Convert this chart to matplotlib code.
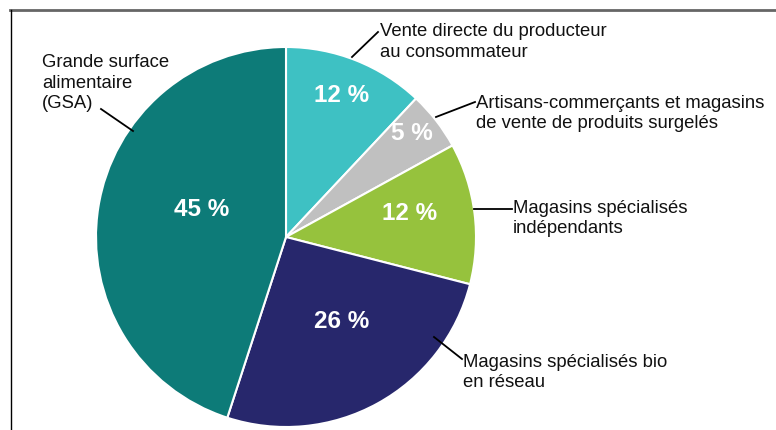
import matplotlib
matplotlib.use("Agg")
import matplotlib.pyplot as plt
from matplotlib.lines import Line2D

plt.rcParams['font.family'] = ['Liberation Sans', 'DejaVu Sans']

categories = [
    "Vente directe du producteur\nau consommateur",
    "Artisans-commerçants et magasins\nde vente de produits surgelés",
    "Magasins spécialisés\nindépendants",
    "Magasins spécialisés bio\nen réseau",
    "Grande surface\nalimentaire\n(GSA)",
]
values = [12, 5, 12, 26, 45]
pct_labels = ["12 %", "5 %", "12 %", "26 %", "45 %"]
colors = ["#3EC1C3", "#C0C0C0", "#96C23D", "#27276C", "#0D7B78"]

W, H = 776, 431
fig = plt.figure(figsize=(W / 100, H / 100), dpi=100)
ax = fig.add_axes([0, 0, 1, 1])
ax.set_xlim(0, W)
ax.set_ylim(0, H)
ax.set_aspect('equal')
ax.axis('off')

def Y(y):
    return H - y

cx, cy, R = 286, Y(238), 190
wedges, _ = ax.pie(values, colors=colors, startangle=90, counterclock=False,
                   center=(cx, cy), radius=R,
                   wedgeprops=dict(edgecolor='white', linewidth=1.5))
ax.set_xlim(0, W)
ax.set_ylim(0, H)

# percent labels inside
pct_pos = [(342, 95), (412, 133), (410, 213), (342, 322), (202, 209)]
for (x, y), t in zip(pct_pos, pct_labels):
    ax.text(x, Y(y), t, color='white', fontsize=17.5, fontweight='bold',
            ha='center', va='center')

# outer labels with leader lines
lab_pos = [(380, 42), (476, 113.5), (513, 218.5), (463, 372.5), (42, 83)]
lines = [((352, 58), (378, 33)),
         ((436, 118), (475, 103)),
         ((474, 210), (512, 210)),
         ((434, 338), (462, 360)),
         ((101, 110), (133, 132))]
for (x, y), t in zip(lab_pos, categories):
    ax.text(x, Y(y), t, color='#111111', fontsize=13.3, ha='left',
            va='center', linespacing=1.3)
for (p1, p2) in lines:
    ax.add_line(Line2D([p1[0], p2[0]], [Y(p1[1]), Y(p2[1])],
                       color='black', lw=1.3))

# frame
ax.add_line(Line2D([10, W + 5], [Y(11), Y(11)], color='#666666', lw=2))
ax.add_line(Line2D([10.5, 10.5], [Y(11), -5], color='black', lw=1))

fig.savefig("out.png", dpi=100)
